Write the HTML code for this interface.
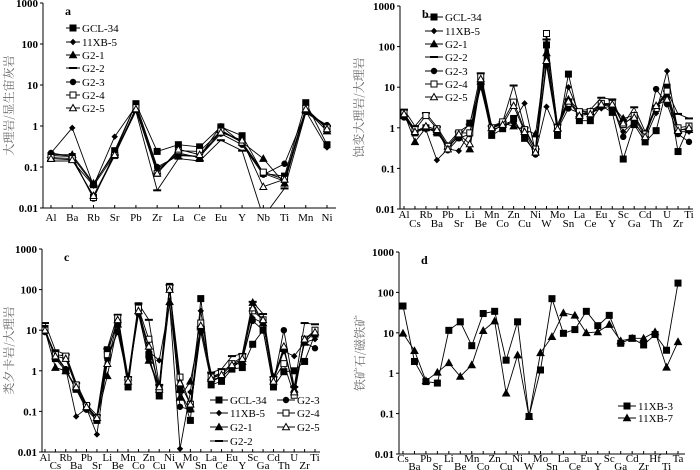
<!DOCTYPE html>
<html><head><meta charset="utf-8"><style>
body{margin:0;background:#fff;}
svg{display:block;font-family:"Liberation Serif","Noto Serif CJK SC",serif;}
</style></head><body>
<svg id="chart" width="700" height="470" viewBox="0 0 700 470" xmlns="http://www.w3.org/2000/svg"></svg>
<script>
const catsA=["Al","Ba","Rb","Sr","Pb","Zr","La","Ce","Eu","Y","Nb","Ti","Mn","Ni"];
const catsBC=["Al","Cs","Rb","Ba","Pb","Sr","Li","Be","Mn","Co","Zn","Cu","Ni","W","Mo","Sn","La","Ce","Eu","Y","Sc","Ga","Cd","Th","U","Zr","Ti"];
const catsD=["Cs","Ba","Pb","Sr","Li","Be","Mn","Co","Zn","Cu","Ni","W","Mo","Sn","La","Ce","Eu","Y","Sc","Ga","Cd","Zr","Hf","Ti","Ta"];
const yTicks=["1000","100","10","1","0.1","0.01"];
const seriesNames=["GCL-34","11XB-5","G2-1","G2-2","G2-3","G2-4","G2-5"];
const markers=["sq","dia","tri","dash","circ","osq","otri"];
const a_GCL34=[0.19,0.18,0.037,0.25,3.5,0.24,0.35,0.31,0.95,0.58,0.07,0.06,3.7,0.35];
const a_11XB5=[0.22,0.9,0.035,0.55,3,0.09,0.2,0.18,1.0,0.38,0.07,0.045,2.3,0.3];
const a_G21=[0.2,0.2,0.04,0.22,2.5,0.08,0.22,0.17,0.8,0.4,0.16,0.04,2.5,0.75];
const a_G22=[0.14,0.14,0.035,0.2,2.3,0.027,0.16,0.14,0.45,0.25,0.006,0.03,2.1,1.0];
const a_G23=[0.22,0.18,0.017,0.22,3.5,0.1,0.19,0.18,0.65,0.35,0.065,0.12,2.2,1.05];
const a_G24=[0.17,0.16,0.018,0.19,2.8,0.07,0.25,0.24,0.75,0.4,0.075,0.05,2.7,0.9];
const a_G25=[0.16,0.15,0.02,0.2,2.6,0.07,0.27,0.2,0.7,0.45,0.033,0.05,2.6,0.85];
const b_GCL34=[2,0.75,1.0,0.75,0.35,0.6,1.3,12,0.65,0.95,1.7,0.55,0.25,110,0.65,21,1.5,1.5,3.5,2.4,0.17,1.2,0.45,0.85,10,0.26,1.1];
const b_11XB5=[1.9,0.9,0.9,0.16,0.3,0.27,0.75,10,0.8,1.2,1.5,4,0.25,3.3,0.8,10,2.2,2.3,3,3.5,0.8,1.4,0.55,2.3,25,0.8,0.8];
const b_G21=[2.3,0.45,1.0,0.8,0.35,0.6,0.3,14,1.0,1.3,1.1,0.9,0.7,70,1.0,5,2.2,2.5,3.8,3.5,1.7,2,0.7,3.3,6.5,0.9,0.9];
const b_G22=[2.8,1.1,2.3,1.05,0.4,0.8,1.2,22,1.1,1.4,11,1.0,0.3,150,1.2,5,2.7,2.8,5.5,5,1.2,3.2,0.8,3.5,8,2.2,1.7];
const b_G23=[1.8,0.85,0.95,0.9,0.28,0.55,0.7,12,0.9,1.1,1.4,0.65,0.22,35,0.9,3,2.3,2.1,3.5,3.6,0.6,1.4,0.55,9,3.8,0.7,0.45];
const b_G24=[2.3,0.9,2.0,0.95,0.35,0.75,0.75,18,1.0,1.4,4.3,0.9,0.3,210,1.0,4,2.5,2.5,4,4,1.2,2,0.7,3,8,1.0,1.1];
const b_G25=[2.2,0.8,1.1,0.9,0.3,0.7,0.4,16,1.0,1.2,3.5,0.8,0.25,45,0.95,4.5,2.0,2.2,3.8,3.8,1.3,1.8,0.6,3.5,5,0.85,1.0];
const c_GCL34=[11,2,1.0,0.35,0.13,0.06,3.3,15,0.4,40,2.5,0.24,120,0.35,0.06,60,0.45,0.55,1.1,1.2,4.5,10,0.4,0.95,1.0,1.7,8];
const c_11XB5=[9,2.5,1.1,0.075,0.12,0.027,1.8,10,0.6,30,3,1.8,45,0.012,0.3,30,0.6,0.7,1.2,1.8,20,15,0.6,3,2.3,5,6];
const c_G21=[10,1.2,1.0,0.4,0.13,0.07,0.75,14,0.7,30,1.8,0.35,50,0.22,0.55,12,0.7,0.8,1.4,1.7,48,15,0.7,3.5,0.35,5,9];
const c_G22=[15,3.2,2.5,0.5,0.15,0.08,3.5,24,0.7,45,18,0.45,130,0.3,0.1,12,0.9,1.1,2.3,2.6,50,25,0.7,3.2,0.4,15,14];
const c_G23=[9,2.2,1.1,0.35,0.11,0.06,2,9,0.6,25,2,0.4,120,0.13,0.11,9,0.55,0.7,1.2,1.9,17,10,0.5,10,0.4,5,3.6];
const c_G24=[10,2.5,2.3,0.45,0.14,0.07,2.5,20,0.6,35,6,0.35,110,0.7,0.15,15,0.7,0.9,1.5,2.2,30,18,0.6,1.5,0.25,6,10];
const c_G25=[10,2.3,2.0,0.4,0.13,0.07,1.5,18,0.55,30,4,0.4,100,0.5,0.15,13,0.65,0.8,1.4,2,35,18,0.55,4,0.3,6,9];
const d_11XB3=[46,1.95,0.62,0.57,11.5,18.7,4.8,30,34,2.1,18.7,0.085,1.2,70,9.7,12,34,15,27,5.5,7.3,5,9.1,3.7,170];
const d_11XB7=[9.7,3.6,0.65,1.05,1.8,0.83,1.6,11.3,19.5,0.32,2.8,0.085,3.2,8,31,27,10,10.5,16,6.3,7.3,7.3,10.5,1.4,6];

const NS="http://www.w3.org/2000/svg";
const svg=document.getElementById("chart");
function el(tag,attrs,parent){const e=document.createElementNS(NS,tag);for(const k in attrs)e.setAttribute(k,attrs[k]);(parent||svg).appendChild(e);return e;}

function marker(g,type,x,y){
  let m;
  if(type==="sq"||type==="osq"){m=el("rect",{x:x-3,y:y-3,width:6,height:6,fill:type==="sq"?"#000":"#fff",stroke:"#000","stroke-width":1},g);}
  else if(type==="dia"){m=el("polygon",{points:`${x},${y-3.2} ${x+3.2},${y} ${x},${y+3.2} ${x-3.2},${y}`,fill:"#000"},g);}
  else if(type==="tri"||type==="otri"){m=el("polygon",{points:`${x},${y-3.5} ${x+3.5},${y+2.8} ${x-3.5},${y+2.8}`,fill:type==="tri"?"#000":"#fff",stroke:"#000","stroke-width":1},g);}
  else if(type==="circ"){m=el("circle",{cx:x,cy:y,r:3.2,fill:"#000"},g);}
  else {m=el("line",{x1:x-4,y1:y,x2:x+4,y2:y,stroke:"#000","stroke-width":2},g);}
  
  
}

function panel(p){
  const g=el("g",{});
  
  
  const dec=(p.y001-p.y1000)/5;
  const yS=v=>p.y1000+(3-Math.log10(v))*dec;
  const n=p.cats.length;
  const xS=i=>p.x0+i*(p.x1-p.x0)/(n-1);
  // axes
  const ya=el("line",{x1:p.ax,y1:p.y1000,x2:p.ax,y2:p.y001,stroke:"#000","stroke-width":1},g);
  
  const xa=el("line",{x1:p.ax,y1:p.y001,x2:p.axEnd,y2:p.y001,stroke:"#000","stroke-width":1},g);
  
  yTicks.forEach((t,i)=>{
    const y=p.y1000+i*dec;
    el("line",{x1:p.ax-3,y1:y,x2:p.ax,y2:y,stroke:"#000"},g);
    const tx=el("text",{x:p.ax-5,y:y+4,"text-anchor":"end","font-size":"11","font-weight":"bold"},g);
    tx.textContent=t;
    
  });
  p.cats.forEach((c,i)=>{
    const x=xS(i);
    el("line",{x1:x,y1:p.y001,x2:x,y2:p.y001-3,stroke:"#000"},g);
    const ty=p.twoRow?(i%2===0?p.lab1:p.lab2):p.lab1;
    const tx=el("text",{x:x,y:ty,"text-anchor":"middle","font-size":"11"},g);
    tx.textContent=c;
    
  });
  const lt=el("text",{x:p.ax+22,y:p.y1000+12,"font-size":"12","font-weight":"bold"},g);
  lt.textContent=p.letter;
  const yt=el("text",{x:p.ytx,y:(p.y1000+p.y001)/2,"text-anchor":"middle","font-size":"12",fill:"#666",transform:`rotate(-90 ${p.ytx} ${(p.y1000+p.y001)/2})`,"font-family":"'Noto Serif CJK SC','Noto Sans CJK SC',serif"},g);
  yt.textContent=p.ytitle;
  // clip
  const cid="clip"+p.letter;
  const cp=el("clipPath",{id:cid},g);
  el("rect",{x:p.ax,y:p.y1000-10,width:p.axEnd-p.ax+5,height:p.y001-p.y1000+10},cp);
  p.series.forEach((s,si)=>{
    const sg=el("g",{"clip-path":`url(#${cid})`},g);
    
    
    const pts=s.map((v,i)=>`${xS(i).toFixed(1)},${yS(v).toFixed(1)}`).join(" ");
    const pl=el("polyline",{points:pts,fill:"none",stroke:"#000","stroke-width":0.9},sg);
    
    s.forEach((v,i)=>marker(sg,p.marks[si],xS(i),yS(v)));
  });
  // legend
  p.leg.forEach((L,si)=>{
    const lg=el("g",{},g);
    
    
    el("line",{x1:L[0],y1:L[1],x2:L[0]+p.legW,y2:L[1],stroke:"#000"},lg);
    marker(lg,p.marks[si],L[0]+p.legW/2,L[1]);
    const t=el("text",{x:L[0]+p.legW+2,y:L[1]+4,"font-size":"11"},lg);
    t.textContent=p.names[si];
  });
}

panel({letter:"a",cats:catsA,ax:43,axEnd:336,x0:51,x1:327,y1000:3,y001:208,twoRow:false,lab1:221,ytx:13,ytitle:"大理岩/显生宙灰岩",
  series:[a_GCL34,a_11XB5,a_G21,a_G22,a_G23,a_G24,a_G25],names:seriesNames,marks:markers,legW:14,
  leg:[[66,28],[66,42],[66,55],[66,68],[66,82],[66,95],[66,108]]});
panel({letter:"b",cats:catsBC,ax:400,axEnd:693,x0:404,x1:689,y1000:6,y001:209,twoRow:true,lab1:218,lab2:227,ytx:363,ytitle:"蚀变大理岩/大理岩",
  series:[b_GCL34,b_11XB5,b_G21,b_G22,b_G23,b_G24,b_G25],names:seriesNames,marks:markers,legW:18,
  leg:[[425,17],[425,31],[425,44],[425,57],[425,71],[425,84],[425,97]]});
panel({letter:"c",cats:catsBC,ax:42,axEnd:320,x0:45,x1:315,y1000:249,y001:452,twoRow:true,lab1:461,lab2:469,ytx:13,ytitle:"类夕卡岩/大理岩",
  series:[c_GCL34,c_11XB5,c_G21,c_G22,c_G23,c_G24,c_G25],names:seriesNames,marks:markers,legW:18,
  leg:[[210,400],[210,413],[210,427],[210,441],[277,400],[277,413],[277,427]]});
panel({letter:"d",cats:catsD,ax:399,axEnd:685,x0:403,x1:678,y1000:252,y001:454,twoRow:true,lab1:462,lab2:470,ytx:364,ytitle:"铁矿石/磁铁矿",
  series:[d_11XB3,d_11XB7],names:["11XB-3","11XB-7"],marks:["sq","tri"],legW:18,
  leg:[[618,406],[618,418]]});
</script>
</body></html>
